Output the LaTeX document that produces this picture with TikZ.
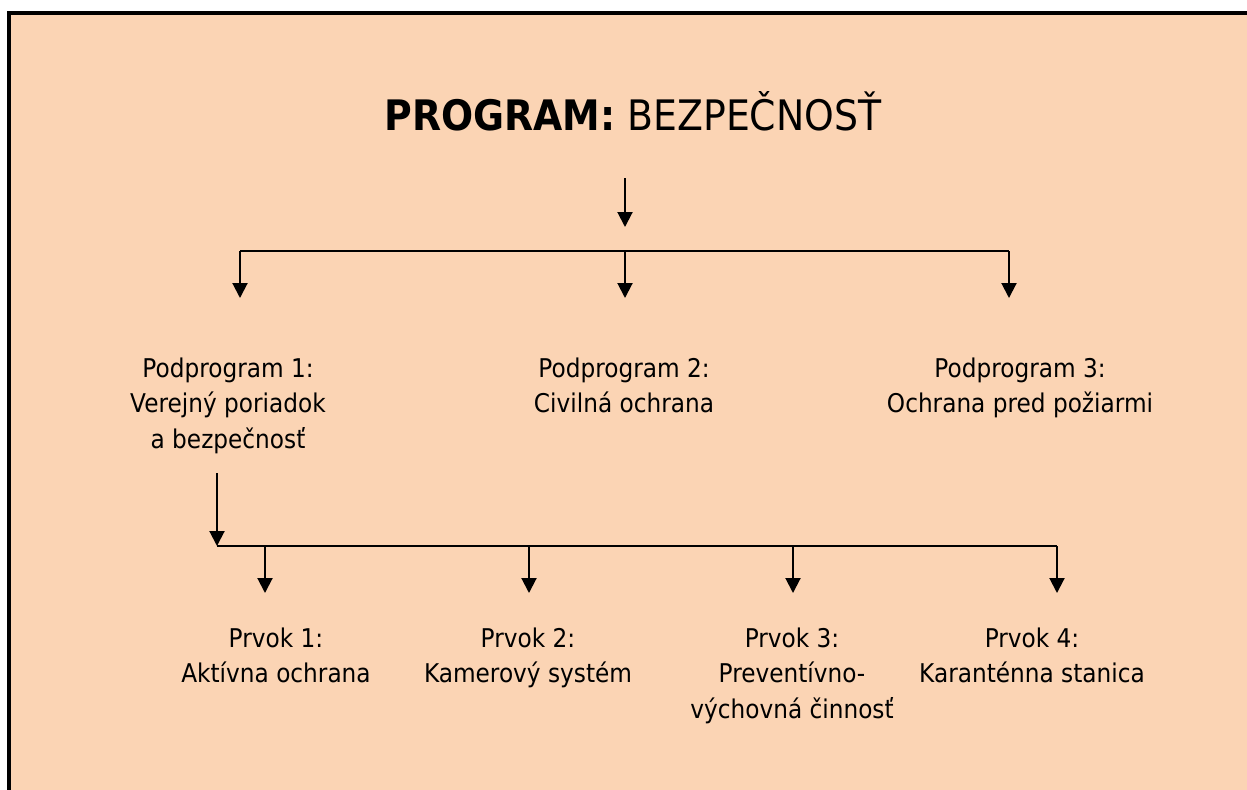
\documentclass[tikz,border=0pt]{standalone}
\usepackage{fontspec}
\setmainfont{DejaVu Sans}[FakeStretch=0.9]
\usetikzlibrary{arrows.meta}
\definecolor{peach}{HTML}{FBD4B4}
\tikzset{
  conn/.style={line width=1pt, draw=black},
  arr/.style={conn, -{Triangle[width=7.5pt,length=7.5pt]}},
  lbl/.style={align=center, anchor=base, inner sep=0pt, font=\fontsize{12.9pt}{17.75pt}\selectfont},
  ttl/.style={anchor=base, inner sep=0pt, font=\fontsize{21pt}{25pt}\selectfont}
}
\begin{document}
\begin{tikzpicture}[x=0.5pt,y=-0.5pt]
\useasboundingbox (0,0) rectangle (1247,789);
\clip (0,0) rectangle (1247,789);
\fill[white] (0,0) rectangle (1247,789);
\filldraw[fill=peach, draw=black, line width=2pt] (9,13) rectangle (1270,810);

\node[ttl] (title) at (633,130) {\textbf{PROGRAM:} BEZPEČNOSŤ};

% base anchor of a multi-line node = baseline of its last line
\node[lbl] (pp1) at (228,448) {Podprogram 1:\\Verejný poriadok\\a bezpečnosť};
\node[lbl] (pp2) at (624,412.5) {Podprogram 2:\\Civilná ochrana};
\node[lbl] (pp3) at (1020,412.5) {Podprogram 3:\\Ochrana pred požiarmi};

\node[lbl] (pr1) at (276,682.5) {Prvok 1:\\Aktívna ochrana};
\node[lbl] (pr2) at (528,682.5) {Prvok 2:\\Kamerový systém};
\node[lbl] (pr3) at (792,718) {Prvok 3:\\Preventívno-\\výchovná činnosť};
\node[lbl] (pr4) at (1032,682.5) {Prvok 4:\\Karanténna stanica};

% upper level
\coordinate (t0) at (625,178);
\coordinate (t1) at (625,227);
\coordinate (h1) at (240,251);
\coordinate (h2) at (625,251);
\coordinate (h3) at (1009,251);
\coordinate (a1) at (240,298);
\coordinate (a2) at (625,298);
\coordinate (a3) at (1009,298);
\draw[arr] (t0) -- (t1);
\draw[conn] (h1) -- (h3);
\draw[arr] (h1) -- (a1);
\draw[arr] (h2) -- (a2);
\draw[arr] (h3) -- (a3);

% lower level
\coordinate (s0) at (217,473);
\coordinate (s1) at (217,546);
\coordinate (l1) at (265,546);
\coordinate (l2) at (529,546);
\coordinate (l3) at (793,546);
\coordinate (l4) at (1057,546);
\coordinate (b1) at (265,593);
\coordinate (b2) at (529,593);
\coordinate (b3) at (793,593);
\coordinate (b4) at (1057,593);
\draw[arr] (s0) -- (s1);
\draw[conn] (s1) -- (l4);
\draw[arr] (l1) -- (b1);
\draw[arr] (l2) -- (b2);
\draw[arr] (l3) -- (b3);
\draw[arr] (l4) -- (b4);
\end{tikzpicture}
\end{document}
